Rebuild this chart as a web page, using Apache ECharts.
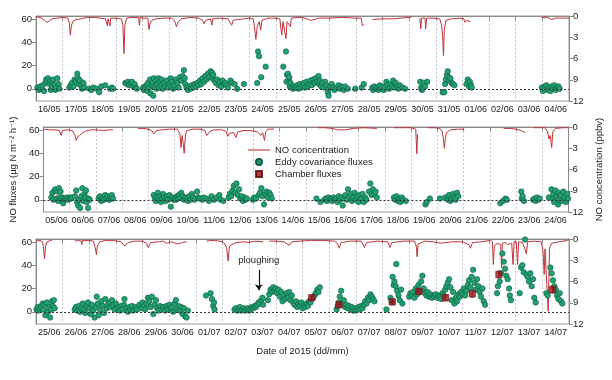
<!DOCTYPE html>
<html><head><meta charset="utf-8">
<script src="https://cdn.jsdelivr.net/npm/echarts@6/dist/echarts.min.js"></script>
<style>html,body{margin:0;padding:0;background:#fff}#c{width:612px;height:380px}</style>
</head><body><div id="c"></div>
<script>
// ---- tick labels ----
const dates1 = ['16/05','17/05','18/05','19/05','20/05','21/05','22/05','23/05','24/05','25/05','26/05','27/05','28/05','29/05','30/05','31/05','01/06','02/06','03/06','04/06'];
const dates2 = ['05/06','06/06','07/06','08/06','09/06','10/06','11/06','12/06','13/06','14/06','15/06','16/06','17/06','18/06','19/06','20/06','21/06','22/06','23/06','24/06'];
const dates3 = ['25/06','26/06','27/06','28/06','29/06','30/06','01/07','02/07','03/07','04/07','05/07','06/07','07/07','08/07','09/07','10/07','11/07','12/07','13/07','14/07'];
const fluxTicks = [0,20,40,60];
const concTicks = [0,3,6,9,12];

// ---- NO concentration (ppbv), x = days since panel start ----
const conc1 = [[0,0.1],[0.15,0.2],[0.3,0.5],[0.4,0.9],[0.5,0.7],[0.6,0.4],[0.8,0.3],[1.0,0.2],[1.2,0.3],[1.25,1.0],[1.29,2.7],[1.33,1.3],[1.4,0.7],[1.5,0.5],[1.7,0.4],[1.9,0.2],[2.2,0.2],[2.4,0.3],[2.6,0.4],[2.66,0.4],[2.68,1.4],[2.7,0.4],[2.76,0.4],[2.78,1.4],[2.8,0.3],[3.0,0.3],[3.2,0.4],[3.26,1.2],[3.3,5.3],[3.34,1.2],[3.4,0.3],[3.6,0.2],[3.85,0.2],[3.88,1.3],[3.91,0.2],[4.0,0.3],[4.2,0.3],[4.24,1.9],[4.28,1.0],[4.35,0.6],[4.5,0.4],[4.8,0.3],[5.1,0.3],[5.2,0.7],[5.27,1.5],[5.33,0.9],[5.45,0.4],[5.8,0.2],[6.1,0.3],[6.25,0.6],[6.3,1.1],[6.38,0.6],[6.55,0.4],[6.6,1.3],[6.63,0.4],[6.9,0.3],[7.2,0.4],[7.3,1.0],[7.34,1.3],[7.4,0.6],[7.6,0.5],[7.8,0.4],[8.0,0.3],[8.15,0.4],[8.2,1.5],[8.25,3.3],[8.3,1.5],[8.38,0.8],[8.43,2.0],[8.48,0.6],[8.7,0.3],[9.0,0.3],[9.15,0.4],[9.22,2.7],[9.27,0.8],[9.33,1.0],[9.38,3.2],[9.42,0.8],[9.55,1.5],[9.58,0.3],[9.8,0.2],[10.0,0.2],[10.3,0.6],[10.45,0.5],[10.6,0.3],[11.0,0.3],[11.5,0.2],[12.0,0.3],[12.2,0.3],[12.25,1.4],[12.3,1.2],[12.32,'-'],[12.63,0.5],[12.7,0.4],[13.0,0.4],[13.4,0.4],[13.7,0.3],[14.0,0.2],[14.1,0.1],[14.12,'-'],[14.4,0.3],[14.44,1.8],[14.47,0.3],[14.6,0.3],[14.62,1.8],[14.66,0.3],[14.9,0.3],[15.15,0.4],[15.22,1.3],[15.26,3.0],[15.29,5.6],[15.32,2.0],[15.38,0.6],[15.6,0.4],[15.9,0.3],[16.05,0.4],[16.1,0.9],[16.15,0.6],[16.3,0.8],[16.32,'-'],[18.97,0.2],[19.2,0.2],[19.35,0.5],[19.5,0.3],[19.8,0.3],[20,0.3]];
const conc2 = [[0,0.3],[0.2,0.4],[0.4,0.4],[0.6,0.5],[0.68,1.2],[0.72,0.5],[0.9,0.4],[1.1,0.5],[1.2,1.2],[1.25,1.9],[1.3,1.4],[1.38,1.2],[1.45,0.9],[1.6,0.6],[1.8,0.4],[2.0,0.4],[2.3,0.5],[2.5,0.4],[2.65,0.4],[2.67,'-'],[3.6,0.2],[3.8,0.2],[4.0,0.3],[4.15,0.6],[4.2,1.0],[4.3,0.5],[4.5,0.4],[4.8,0.3],[5.1,0.3],[5.2,1.0],[5.24,2.9],[5.28,1.2],[5.32,2.2],[5.36,3.7],[5.4,1.5],[5.45,0.5],[5.7,0.3],[6.0,0.3],[6.15,0.5],[6.22,1.2],[6.28,1.4],[6.35,0.6],[6.5,0.4],[6.8,0.4],[6.95,0.6],[7.02,1.3],[7.08,0.9],[7.15,0.7],[7.25,0.8],[7.33,1.5],[7.4,0.7],[7.6,0.5],[7.9,0.5],[8.15,0.7],[8.28,1.2],[8.35,0.8],[8.42,1.9],[8.46,0.7],[8.55,0.3],[8.78,0.3],[8.8,'-'],[10.45,0.1],[10.7,0.1],[11.0,0.2],[11.2,0.4],[11.5,0.4],[11.8,0.2],[12.2,0.1],[12.7,0.2],[12.72,'-'],[13.34,0.1],[13.6,0.1],[14.0,0.1],[14.18,0.3],[14.22,3.8],[14.25,1.0],[14.27,'-'],[14.63,0.1],[14.9,0.1],[15.1,0.2],[15.18,0.6],[15.22,1.3],[15.27,3.0],[15.3,1.8],[15.35,0.8],[15.5,0.4],[15.8,0.3],[16.03,0.3],[16.05,'-'],[17.53,0.2],[17.8,0.2],[18.0,0.3],[18.2,0.5],[18.34,0.8],[18.36,'-'],[18.66,0.1],[18.9,0.1],[19.1,0.1],[19.2,0.6],[19.25,1.7],[19.3,1.2],[19.36,2.9],[19.4,0.7],[19.5,0.2],[19.8,0.1],[19.97,0.1]];
const conc3 = [[0,0.3],[0.15,0.2],[0.25,0.4],[0.29,1.5],[0.32,2.8],[0.36,1.0],[0.42,0.4],[0.55,0.2],[0.6,0.3],[0.62,'-'],[1.46,0.3],[1.6,0.2],[1.7,0.3],[1.72,0.8],[1.74,0.2],[2.0,0.2],[2.15,0.3],[2.22,1.2],[2.27,2.2],[2.3,1.0],[2.4,0.4],[2.6,0.2],[2.9,0.2],[3.2,0.4],[3.33,1.0],[3.45,0.5],[3.7,0.3],[4.0,0.3],[4.15,0.6],[4.21,1.2],[4.3,0.5],[4.6,0.4],[4.75,0.3],[4.9,0.6],[5.1,0.4],[5.3,0.7],[5.5,0.5],[5.65,0.4],[5.67,'-'],[6.4,0.3],[6.6,0.2],[6.9,0.3],[7.05,0.5],[7.15,1.2],[7.21,3.1],[7.26,1.0],[7.35,0.8],[7.5,0.5],[7.8,0.4],[8.0,0.5],[8.2,0.3],[8.53,0.4],[8.56,'-'],[8.75,0.3],[9.0,0.3],[9.3,0.4],[9.5,0.9],[9.6,0.4],[9.9,0.3],[10.3,0.2],[10.8,0.2],[11.2,0.3],[11.3,0.6],[11.38,1.3],[11.45,0.5],[11.8,0.3],[12.2,0.3],[12.33,1.2],[12.4,0.5],[12.8,0.3],[13.2,0.4],[13.28,1.2],[13.35,0.5],[13.8,0.3],[14.2,0.3],[14.27,1.0],[14.3,2.5],[14.34,0.7],[14.6,0.3],[14.9,0.4],[15.2,0.6],[15.6,0.4],[16.0,0.4],[16.25,0.8],[16.3,1.3],[16.38,0.5],[16.7,0.4],[17.05,0.2],[17.13,0.4],[17.16,3.6],[17.2,1.0],[17.3,0.6],[17.44,0.8],[17.47,4.0],[17.5,0.6],[17.62,0.5],[17.7,0.8],[17.85,0.6],[17.9,3.6],[17.94,0.4],[18.02,0.4],[18.07,3.6],[18.11,0.4],[18.25,0.5],[18.33,1.2],[18.4,2.1],[18.45,0.4],[18.7,0.3],[18.95,0.4],[19.02,1.5],[19.07,5.0],[19.1,1.4],[19.17,1.2],[19.22,10.2],[19.27,1.3],[19.35,0.6],[19.6,0.4],[19.8,0.3],[20,0.1]];

// ---- Eddy covariance NO fluxes (µg N m-2 h-1) ----
const eddy1 = [[0.05,1],[0.1,-1],[0.15,2],[0.2,0],[0.25,3],[0.3,-2],[0.35,5],[0.38,8],[0.42,6],[0.45,9],[0.5,4],[0.52,7],[0.55,-1],[0.6,2],[0.62,6],[0.65,8],[0.7,3],[0.72,-1],[0.75,1],[0.8,9],[0.85,4],[0.88,0],
[1.25,1],[1.3,3],[1.35,5],[1.4,2],[1.45,8],[1.5,6],[1.55,13],[1.58,9],[1.6,4],[1.65,7],[1.7,3],[1.72,0],[1.78,5],[1.82,1],
[2.0,0],[2.08,-1],[2.15,1],[2.28,0],[2.37,-3],[2.45,2],[2.6,3],[2.78,0],[2.85,1],[2.9,0],
[3.35,5],[3.4,4],[3.45,6],[3.5,3],[3.55,5],[3.6,6],[3.65,2],[3.7,4],[3.75,1],[3.78,0],
[4.02,1],[4.05,-1],[4.08,2],[4.1,0],[4.15,3],[4.18,-2],[4.2,5],[4.25,1],[4.28,8],[4.3,-4],[4.35,3],[4.38,6],[4.4,-6],[4.42,9],[4.45,2],[4.5,7],[4.52,0],[4.55,4],[4.6,9],[4.62,1],[4.65,6],[4.7,3],[4.72,8],[4.75,0],[4.8,5],[4.85,2],[4.9,7],[4.95,1],[5.0,4],[5.05,9],[5.08,2],[5.1,6],[5.15,0],[5.2,3],[5.25,8],[5.3,5],[5.35,1],[5.4,10],[5.45,7],[5.5,11],[5.55,16],[5.58,9],[5.6,4],[5.65,1],[5.7,-1],[5.75,2],[5.8,0],[5.85,3],[5.9,1],[5.95,4],[6.0,2],[6.05,5],[6.1,3],[6.15,7],[6.2,4],[6.25,9],[6.3,6],[6.35,11],[6.4,8],[6.45,13],[6.5,10],[6.55,15],[6.6,14],[6.62,9],[6.65,12],[6.7,7],[6.75,5],[6.8,8],[6.85,3],[6.9,6],[6.95,2],[7.0,7],[7.05,4],[7.1,5],[7.15,3],[7.2,1],[7.3,7],[7.35,5],[7.45,4],[7.55,0],[7.8,4],
[8.3,5],[8.33,32],[8.37,28],[8.45,10],[8.62,19],
[9.28,19],[9.38,32],[9.4,6],[9.42,12],[9.45,13],[9.48,8],[9.5,10],[9.52,2],[9.55,5],[9.6,1],[9.65,0],[9.7,2],[9.75,1],[9.8,3],[9.85,0],[9.9,4],[9.95,1],
[10.0,3],[10.05,5],[10.1,1],[10.15,6],[10.2,2],[10.25,4],[10.3,7],[10.35,3],[10.4,8],[10.45,5],[10.5,9],[10.55,6],[10.6,11],[10.62,4],[10.65,7],[10.7,2],[10.75,5],[10.8,1],[10.85,6],[10.9,3],[10.95,-3],[10.98,-6],[11.0,0],[11.05,2],[11.1,4],[11.15,1],[11.2,-1],[11.3,1],[11.35,3],[11.4,0],[11.45,2],[11.5,1],[11.55,-1],[11.6,2],[11.7,0],[11.98,0],[12.22,1],[12.3,4],
[12.62,1],[12.65,-1],[12.7,2],[12.75,0],[12.8,1],[12.85,-1],[12.9,3],[12.95,0],[13.0,2],[13.05,-1],[13.1,1],[13.15,6],[13.2,3],[13.25,0],[13.3,4],[13.35,2],[13.4,7],[13.45,1],[13.5,5],[13.55,2],[13.6,0],[13.65,3],[13.75,1],[13.85,0],
[14.42,6],[14.45,1],[14.48,-1],[14.5,0],[14.55,5],[14.6,2],[14.68,6],
[15.26,-3],[15.32,-3],[15.35,4],[15.38,8],[15.42,12],[15.45,15],[15.48,10],[15.5,7],[15.55,9],[15.6,5],[15.65,4],[15.7,3],
[16.15,4],[16.2,8],[16.25,2],[16.28,6],[16.32,3],[16.35,1],
[18.98,1],[19.02,-2],[19.08,2],[19.1,0],[19.15,3],[19.2,-1],[19.25,1],[19.3,-2],[19.35,2],[19.4,0],[19.45,3],[19.5,-1],[19.55,1],[19.6,2],[19.65,0]];
const eddy2 = [[0.3,2],[0.34,6],[0.38,0],[0.42,8],[0.46,9],[0.5,1],[0.53,7],[0.56,-1],[0.59,10],[0.62,2],[0.65,7],[0.68,0],[0.71,2],[0.75,-3],[0.78,1],[0.82,0],[0.85,1],[0.9,2],[0.95,0],[1.0,2],[1.05,1],[1.09,2],
[1.2,3],[1.25,8],[1.28,-2],[1.32,-5],[1.36,0],[1.4,-7],[1.45,3],[1.48,10],[1.52,-1],[1.56,5],[1.6,2],[1.62,8],[1.65,-2],[1.7,-7],[1.72,1],[1.76,0],
[2.1,1],[2.15,3],[2.2,-1],[2.25,2],[2.3,0],[2.35,4],[2.4,1],[2.45,3],[2.5,0],[2.55,2],[2.6,4],[2.65,1],
[4.2,4],[4.25,1],[4.28,-1],[4.32,2],[4.36,6],[4.4,0],[4.45,3],[4.48,-2],[4.52,1],[4.55,5],[4.6,2],[4.65,-1],[4.7,3],[4.75,0],[4.8,4],[4.85,-6],[4.9,2],[4.95,0],
[5.0,1],[5.05,0],[5.08,3],[5.12,1],[5.15,4],[5.2,2],[5.25,6],[5.3,3],[5.35,0],[5.4,2],[5.45,1],[5.5,-1],[5.55,3],[5.6,0],[5.65,5],[5.7,2],[5.75,0],[5.85,7],[5.9,2],[5.95,1],
[6.05,0],[6.1,2],[6.2,1],[6.3,-1],[6.4,3],[6.5,0],[6.6,2],[6.7,4],[6.75,0],[6.85,-1],
[7.05,2],[7.1,5],[7.15,3],[7.2,8],[7.25,12],[7.3,6],[7.35,14],[7.4,4],[7.45,9],[7.5,1],[7.55,3],[7.6,-1],[7.65,2],[7.7,0],[7.75,1],
[7.98,0],[8.02,2],[8.1,1],[8.2,4],[8.25,6],[8.3,10],[8.35,3],[8.4,-4],[8.45,5],[8.5,7],[8.55,2],[8.6,6],[8.65,4],[8.7,1],
[10.4,1],[10.55,-2],
[10.7,0],[10.75,1],[10.8,-1],[10.85,2],[10.9,0],[10.95,1],[11.0,-1],[11.05,2],[11.1,0],[11.15,1],[11.2,-2],[11.25,3],[11.3,0],[11.35,2],[11.4,-5],[11.45,1],[11.5,4],[11.55,0],[11.6,9],[11.65,3],[11.7,5],[11.75,-1],[11.8,2],[11.85,6],[11.9,0],[11.95,3],[12.0,-2],[12.05,4],[12.1,1],[12.15,5],[12.2,-2],[12.25,2],[12.3,0],[12.4,7],[12.45,14],[12.5,4],[12.55,9],[12.6,5],[12.65,7],[12.7,2],
[13.35,2],[13.4,0],[13.45,3],[13.5,-1],[13.55,1],[13.6,-2],[13.65,2],[13.7,0],[13.8,-1],
[14.55,-4],[14.6,-2],[14.72,1],
[15.1,1],[15.3,2],[15.4,0],[15.45,4],[15.5,-1],[15.55,1],[15.6,5],[15.65,2],[15.7,0],[15.75,6],[15.8,3],
[17.4,-3],[17.5,-1],[17.6,1],[17.65,0],
[18.2,7],[18.22,1],[18.25,3],[18.3,-1],[18.65,0],[18.7,1],[18.75,-1],[18.8,2],[18.85,0],[18.9,1],
[19.25,2],[19.35,9],[19.4,1],[19.42,5],[19.45,-2],[19.5,8],[19.55,3],[19.6,-4],[19.62,6],[19.65,0],[19.7,4],[19.75,-1],[19.8,7],[19.85,2],[19.9,-2],[19.95,5],[19.98,1]];
const eddy3 = [[0.02,2],[0.06,4],[0.1,1],[0.15,3],[0.2,5],[0.25,7],[0.28,2],[0.32,6],[0.35,-3],[0.4,8],[0.45,0],[0.5,4],[0.53,-5],[0.57,2],[0.6,9],[0.63,5],[0.67,10],[0.7,3],
[1.45,2],[1.5,4],[1.55,1],[1.6,5],[1.65,0],[1.7,3],[1.75,7],[1.8,2],[1.85,-1],[1.9,5],[1.95,8],[2.0,3],[2.05,-2],[2.1,6],[2.15,1],[2.2,-5],[2.25,4],[2.28,13],[2.32,7],[2.35,-3],[2.4,2],[2.45,9],[2.5,5],[2.55,-1],[2.6,11],[2.65,3],[2.7,6],[2.75,8],[2.8,4],[2.85,10],
[2.9,5],[2.95,2],[3.0,7],[3.05,3],[3.1,4],[3.15,1],[3.2,5],[3.25,2],[3.3,6],[3.32,11],[3.4,3],[3.45,0],[3.5,4],[3.55,2],[3.6,5],[3.65,1],[3.7,3],[3.75,4],[3.8,2],[3.88,6],
[3.95,3],[4.0,8],[4.05,5],[4.1,2],[4.15,7],[4.2,12],[4.25,9],[4.3,4],[4.35,13],[4.4,-2],[4.45,6],[4.5,10],[4.55,3],[4.6,1],[4.65,5],[4.7,2],[4.75,4],
[4.8,3],[4.85,1],[4.9,5],[4.95,2],[5.0,6],[5.05,3],[5.1,4],[5.15,0],[5.2,7],[5.25,10],[5.3,2],[5.35,5],[5.4,1],[5.45,4],[5.5,-2],[5.55,3],[5.6,-4],[5.65,-5],[5.7,1],
[6.38,14],[6.55,16],[6.6,11],[6.65,5],[6.68,8],[6.7,2],
[7.45,2],[7.5,3],[7.55,1],[7.6,2],[7.65,4],[7.7,1],[7.75,2],[7.8,3],[7.85,1],[7.9,2],[7.95,3],[8.0,1],[8.05,2],[8.1,4],[8.15,3],[8.2,5],[8.25,4],[8.3,6],[8.35,8],[8.4,7],[8.45,10],[8.5,12],[8.52,6],
[8.7,10],[8.75,15],[8.8,19],[8.85,17],[8.9,21],[8.95,18],[9.0,20],[9.05,16],[9.1,19],[9.15,13],[9.2,17],[9.25,9],[9.3,14],[9.35,11],[9.4,16],[9.45,12],[9.5,17],[9.55,10],[9.6,14],[9.65,8],[9.7,6],[9.75,9],[9.8,4],[9.85,7],[9.9,5],[9.95,8],[10.0,3],[10.05,6],
[10.1,4],[10.15,7],[10.2,5],[10.25,9],[10.3,8],[10.4,12],[10.45,14],[10.5,16],[10.55,19],[10.6,17],[10.65,21],
[11.28,2],[11.32,5],[11.36,8],[11.4,13],[11.45,18],[11.5,7],[11.55,10],[11.6,4],[11.65,6],[11.7,3],[11.75,5],[11.8,2],[11.85,4],[11.9,1],[11.95,3],[12.0,1],[12.05,2],[12.1,4],[12.15,2],[12.2,5],[12.25,3],[12.3,6],[12.35,9],[12.4,7],[12.45,12],[12.5,10],[12.55,15],[12.6,13],[12.65,11],[12.7,9],
[13.15,2],[13.3,12],[13.35,9],[13.38,30],[13.42,23],[13.45,26],[13.5,22],[13.52,41],[13.55,18],[13.6,14],[13.65,10],[13.7,19],[13.75,7],
[14.0,13],[14.05,16],[14.1,14],[14.15,17],[14.2,12],[14.25,20],[14.3,15],[14.35,23],[14.4,18],[14.45,26],[14.5,31],[14.55,20],[14.6,16],[14.65,14],[14.7,17],[14.75,13],[14.8,15],[14.85,12],[14.9,14],
[14.95,13],[15.0,15],[15.05,12],[15.1,14],[15.15,13],[15.2,11],[15.25,16],[15.3,14],[15.35,19],[15.4,22],[15.45,25],[15.5,28],[15.55,21],[15.6,10],[15.65,17],[15.7,7],[15.75,12],[15.8,9],[15.85,15],
[15.9,13],[15.95,17],[16.0,15],[16.05,20],[16.1,14],[16.15,18],[16.2,23],[16.25,27],[16.3,21],[16.35,30],[16.4,36],[16.45,25],[16.5,19],[16.55,28],[16.6,22],[16.65,17],[16.7,13],[16.75,20],[16.8,9],[16.85,6],
[17.3,16],[17.33,22],[17.4,26],[17.45,33],[17.5,50],[17.55,43],[17.6,37],[17.65,31],[17.7,28],[17.75,20],[17.78,14],[17.82,10],
[18.15,16],[18.2,38],[18.25,40],[18.3,34],[18.35,62],[18.4,32],[18.45,30],[18.5,26],[18.55,33],[18.6,22],[18.65,28],[18.7,12],[18.75,8],
[19.15,16],[19.2,14],[19.3,38],[19.35,33],[19.4,27],[19.45,22],[19.5,19],[19.55,14],[19.6,11],[19.65,16],[19.7,9],[19.75,7]];

// ---- Chamber fluxes [day, flux, error] (panel 3 only) ----
const chamber3 = [[10.34,12,2.5],[11.37,6,2.5],[13.37,8.5,2.5],[14.37,17.5,2.5],[15.37,12,2.5],[16.37,15.5,3],[17.37,32,3],[19.38,19,3]];

// ploughing annotation (panel 3, day & flux)
const ploughX = 8.36;

const FONT = 'Liberation Sans, Arial, DejaVu Sans, sans-serif';
const TXT = '#222';
const GREEN = '#22a072', GREEN_B = '#0d5c3d', RED = '#c0343a', CH = '#9e1016';

const tops = [16, 127, 239];
const H = 85;
const grids = tops.map(t => ({left: 36, right: 43, top: t, height: H, show: true, borderColor: '#9a9a9a', borderWidth: 1, backgroundColor: 'transparent'}));
const xAxes = [], yAxes = [];
const datesAll = [dates1, dates2, dates3];
for (let i = 0; i < 3; i++) {
  xAxes.push({type: 'value', gridIndex: i, min: 0, max: 20, interval: 1, axisLine: {show: false}, axisTick: {show: false}, axisLabel: {show: false},
    splitLine: {show: true, lineStyle: {color: '#c8c8c8', type: [2, 2], width: 1}}});
  xAxes.push({type: 'category', gridIndex: i, data: datesAll[i], boundaryGap: true, position: 'bottom',
    axisLine: {show: true, lineStyle: {color: '#8a8a8a'}}, axisTick: {show: true, length: 4, lineStyle: {color: '#8a8a8a'}},
    axisLabel: {interval: 0, fontSize: 9, color: TXT, fontFamily: FONT, margin: 4}, splitLine: {show: false},
    name: i === 2 ? 'Date of 2015 (dd/mm)' : '', nameLocation: 'middle', nameGap: 22, nameTextStyle: {fontSize: 9.5, color: TXT, fontFamily: FONT}});
  yAxes.push({type: 'value', gridIndex: i, min: -10.5, max: 62.5, position: 'left',
    axisLine: {show: true, lineStyle: {color: '#8a8a8a'}}, axisTick: {show: true, length: 4, customValues: fluxTicks, lineStyle: {color: '#8a8a8a'}},
    axisLabel: {customValues: fluxTicks, fontSize: 9.5, color: TXT, fontFamily: FONT, margin: 4}, splitLine: {show: false},
    name: i === 1 ? 'NO fluxes (µg N m⁻² h⁻¹)' : '', nameLocation: 'middle', nameGap: 20, nameRotate: 90,
    nameTextStyle: {fontSize: 9.5, color: TXT, fontFamily: FONT}});
  yAxes.push({type: 'value', gridIndex: i, min: 0, max: 12, interval: 3, inverse: true, position: 'right',
    axisLine: {show: true, lineStyle: {color: '#8a8a8a'}}, axisTick: {show: true, length: 4, lineStyle: {color: '#8a8a8a'}},
    axisLabel: {fontSize: 9.5, color: TXT, fontFamily: FONT, margin: 4}, splitLine: {show: false},
    name: i === 1 ? 'NO concentration (ppbv)' : '', nameLocation: 'middle', nameGap: 20, nameRotate: 90,
    nameTextStyle: {fontSize: 9.5, color: TXT, fontFamily: FONT}});
}

const concAll = [conc1, conc2, conc3];
const eddyAll = [eddy1, eddy2, eddy3];
const series = [];
for (let i = 0; i < 3; i++) {
  series.push({name: 'NO concentration', type: 'line', xAxisIndex: 2 * i, yAxisIndex: 2 * i + 1, data: concAll[i],
    showSymbol: false, symbol: 'none', connectNulls: false, lineStyle: {color: RED, width: 1}, itemStyle: {color: RED}, z: 2, animation: false});
  series.push({name: 'Eddy covariance fluxes', type: 'scatter', xAxisIndex: 2 * i, yAxisIndex: 2 * i, data: eddyAll[i],
    symbol: 'circle', symbolSize: 5.5, itemStyle: {color: GREEN, borderColor: GREEN_B, borderWidth: 0.6, opacity: 1}, z: 3, animation: false,
    markLine: {silent: true, symbol: 'none', animation: false, label: {show: false},
      lineStyle: {color: '#333', type: [2, 2], width: 1}, data: [{yAxis: 0}]}});
}
series.push({name: 'errbar', type: 'custom', xAxisIndex: 4, yAxisIndex: 4, data: chamber3, z: 4, animation: false,
  renderItem: function (params, api) {
    const x = api.value(0), y = api.value(1), e = api.value(2);
    const a = api.coord([x, y + e]), b = api.coord([x, y - e]);
    return {type: 'group', children: [
      {type: 'line', shape: {x1: a[0], y1: a[1], x2: b[0], y2: b[1]}, style: {stroke: '#555', lineWidth: 1}},
      {type: 'line', shape: {x1: a[0] - 2, y1: a[1], x2: a[0] + 2, y2: a[1]}, style: {stroke: '#555', lineWidth: 1}},
      {type: 'line', shape: {x1: b[0] - 2, y1: b[1], x2: b[0] + 2, y2: b[1]}, style: {stroke: '#555', lineWidth: 1}}
    ]};
  }});
series.push({name: 'Chamber fluxes', type: 'scatter', xAxisIndex: 4, yAxisIndex: 4, data: chamber3.map(d => [d[0], d[1]]),
  symbol: 'rect', symbolSize: 6.5, itemStyle: {color: CH, borderColor: '#5a0000', borderWidth: 0.5}, z: 5, animation: false,
  markLine: {silent: true, animation: false, symbol: ['none', 'arrow'], symbolSize: 6, label: {show: false},
    lineStyle: {color: '#111', type: 'solid', width: 1.2},
    data: [[{coord: [ploughX, 36]}, {coord: [ploughX, 18.5]}]]},
  markPoint: {silent: true, animation: false, symbol: 'circle', symbolSize: 1, itemStyle: {color: 'rgba(0,0,0,0)'},
    label: {show: true, position: 'inside', formatter: 'ploughing', fontSize: 9.5, color: TXT, fontFamily: FONT},
    data: [{coord: [ploughX, 44]}]}});

const chart = echarts.init(document.getElementById('c'), null, {renderer: 'canvas'});
chart.setOption({
  animation: false,
  textStyle: {fontFamily: FONT},
  grid: grids, xAxis: xAxes, yAxis: yAxes,
  legend: {orient: 'vertical', left: 248, top: 145, itemWidth: 22, itemHeight: 6, itemGap: 2, symbolKeepAspect: true,
    textStyle: {fontSize: 9.5, color: TXT, fontFamily: FONT}, padding: 0,
    data: [{name: 'NO concentration', icon: 'path://M0,0H40V2H0Z'},
           {name: 'Eddy covariance fluxes', icon: 'circle'},
           {name: 'Chamber fluxes', icon: 'path://M0,0H10V10H0Z'}],
    selectedMode: false},
  series: series
});
</script></body></html>
